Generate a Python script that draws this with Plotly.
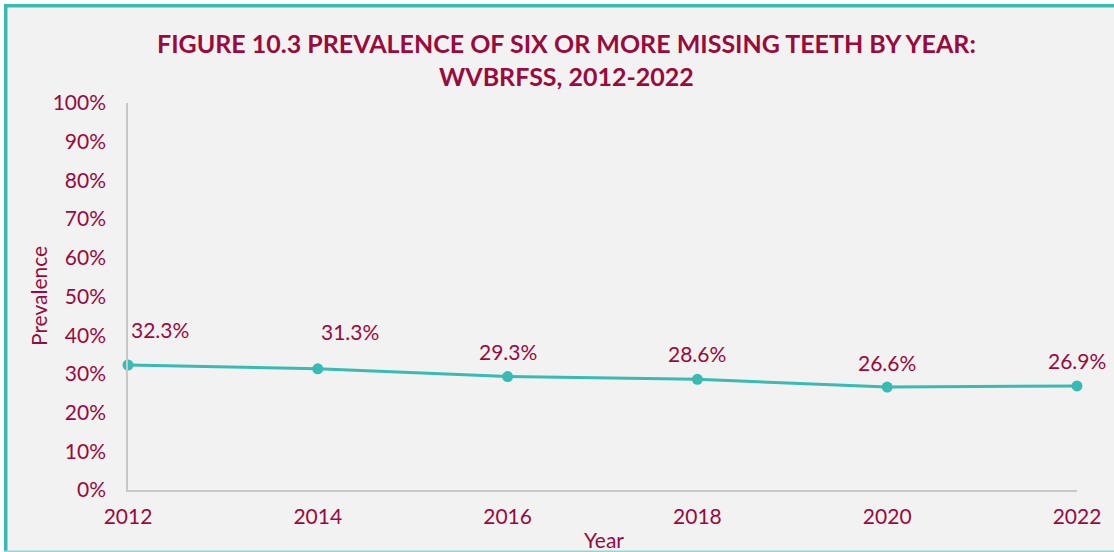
import plotly.graph_objects as go

# Survey years and prevalence (%) of six or more missing teeth
years = [2012, 2014, 2016, 2018, 2020, 2022]
prevalence = [32.3, 31.3, 29.3, 28.6, 26.6, 26.9]
y_ticks = list(range(0, 101, 10))

TEAL = "#37bbb3"
CRIMSON = "#9a0a3d"
FONT = "Lato"
W, H = 1114, 552
L, R, T, B = 128, 37, 103, 62
pw, ph = W - L - R, H - T - B

fig = go.Figure()
fig.add_trace(go.Scatter(
    x=years, y=prevalence, mode="lines+markers",
    line=dict(color=TEAL, width=3),
    marker=dict(color=TEAL, size=11),
    hoverinfo="skip", showlegend=False, cliponaxis=False,
))

# value labels above each point (first two sit a little higher and to the right)
label_shift = [(32, 36), (32, 37), (0, 25), (0, 26), (0, 25), (0, 25)]
for (yr, v), (dx, dy) in zip(zip(years, prevalence), label_shift):
    fig.add_annotation(x=yr, y=v, text=f"{v:.1f}%", showarrow=False,
                       xshift=dx, yshift=dy, xanchor="center", yanchor="middle",
                       font=dict(family=FONT, size=21, color=CRIMSON))

def px_x(px):
    return (px - L) / pw

def px_y(py):
    return (H - B - py) / ph

def band(x0, x1, y0, y1, color):
    # filled strip given in pixel coordinates of the figure
    fig.add_shape(type="rect", xref="paper", yref="paper", layer="below",
                  x0=px_x(x0), x1=px_x(x1), y0=px_y(y1), y1=px_y(y0),
                  line=dict(width=0), fillcolor=color)

# panel frame: white margin outside, teal edges on the left, top and bottom
band(0, 4, 0, H, "white")
band(0, W, 0, 4, "white")
band(4, W, 4, 7.5, TEAL)
band(4, 7.5, 4, 551, TEAL)
band(4, W, 550.5, H, "#93d8d3")

fig.add_annotation(xref="paper", yref="paper",
                   x=px_x(566), y=px_y(60), xanchor="center", yanchor="middle",
                   text="<b>FIGURE 10.3 PREVALENCE OF SIX OR MORE MISSING TEETH BY YEAR:<br>WVBRFSS, 2012-2022</b>",
                   showarrow=False, align="center",
                   font=dict(family=FONT, size=25, color=CRIMSON))
fig.add_annotation(xref="paper", yref="paper",
                   x=px_x(38), y=px_y(296), textangle=-90,
                   xanchor="center", yanchor="middle",
                   text="Prevalence", showarrow=False,
                   font=dict(family=FONT, size=21, color=CRIMSON))
fig.add_annotation(xref="paper", yref="paper",
                   x=px_x(604), y=px_y(539), xanchor="center", yanchor="middle",
                   text="Year", showarrow=False,
                   font=dict(family=FONT, size=21, color=CRIMSON))

fig.update_xaxes(range=[2012, 2022], tickvals=years, ticktext=[str(y) for y in years],
                 showgrid=False, zeroline=False, showline=True, linecolor="#c8c8c8",
                 linewidth=1.5, ticks="", ticklabelstandoff=7,
                 tickfont=dict(family=FONT, size=21, color=CRIMSON))
fig.update_yaxes(range=[0, 100], tickvals=y_ticks, ticktext=[f"{t}%" for t in y_ticks],
                 showgrid=False, zeroline=False, showline=True, linecolor="#c8c8c8",
                 linewidth=1.5, ticks="", ticklabelstandoff=16,
                 tickfont=dict(family=FONT, size=21, color=CRIMSON))

fig.update_layout(width=W, height=H, margin=dict(l=L, r=R, t=T, b=B),
                  paper_bgcolor="#f2f2f2", plot_bgcolor="#f2f2f2")

fig.write_html("out.html")
